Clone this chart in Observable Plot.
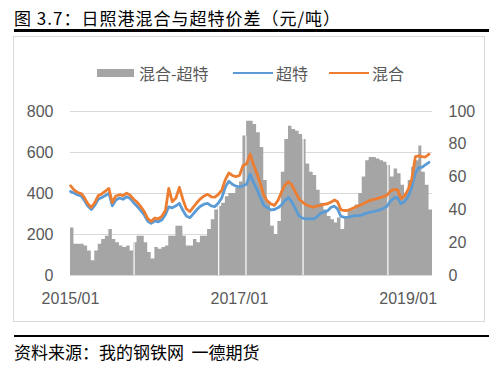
<!DOCTYPE html>
<html><head><meta charset="utf-8">
<script src="https://cdn.jsdelivr.net/npm/d3@7"></script>
<script src="https://cdn.jsdelivr.net/npm/@observablehq/plot@0.6"></script>
<style>
body{margin:0;background:#fff;}
#wrap{position:relative;width:500px;height:368px;overflow:hidden;font-family:"Noto Sans CJK SC","Noto Sans",sans-serif;color:#000;}
#title{position:absolute;left:14px;top:9px;font-size:17px;line-height:17px;letter-spacing:1px;white-space:nowrap;}
.rule{position:absolute;left:14px;width:475px;height:2px;background:#000;}
#frame{position:absolute;left:13px;top:36px;width:472px;height:286px;border:1px solid #d9d9d9;box-sizing:border-box;}
.lg{position:absolute;font-size:16px;line-height:16px;top:65px;color:#595959;white-space:nowrap;}
.sw{position:absolute;}
#chart{position:absolute;left:0;top:90px;}
#caption{position:absolute;left:14px;top:343px;font-size:17px;line-height:17px;white-space:pre;}
</style></head><body>
<div id="wrap">
  <div id="title">图 3.7：日照港混合与超特价差（元/吨）</div>
  <div class="rule" style="top:29px;height:2.5px"></div>
  <div id="frame"></div>
  <div class="sw" style="left:97px;top:69px;width:37px;height:8px;background:#a5a5a5"></div>
  <div class="lg" style="left:139px">混合-超特</div>
  <div class="sw" style="left:233px;top:71.5px;width:40px;height:2.5px;background:#5b9bd5"></div>
  <div class="lg" style="left:276px">超特</div>
  <div class="sw" style="left:329px;top:71.5px;width:40px;height:2.5px;background:#ed7d31"></div>
  <div class="lg" style="left:372px">混合</div>
  <div id="chart"></div>
  <div class="rule" style="top:334.5px"></div>
  <div id="caption">资料来源：我的钢铁网  一德期货</div>
</div>
<script>
// half-monthly readings, 2015-01-01 .. 2019-04-01
const mix = [438,418,405,400,382,352,332,356,390,398,412,425,355,388,394,390,402,392,372,358,336,312,278,264,
  280,276,290,318,425,360,378,430,372,325,312,335,356,374,388,396,384,382,395,415,468,500,488,482,
  488,535,545,592,545,500,450,392,365,350,342,365,405,440,458,440,405,373,358,345,338,333,338,342,
  347,350,358,368,360,320,317,318,325,333,340,347,356,365,370,374,380,385,392,412,420,418,375,388,
  420,468,580,584,580,578,592];
const ultra = [410,402,393,388,368,340,322,342,372,380,390,402,340,368,378,372,384,376,355,338,318,295,265,255,
  266,262,272,298,335,330,340,352,318,290,282,302,322,338,348,352,340,336,352,378,432,460,445,436,
  432,438,445,495,458,424,382,342,332,320,322,330,343,365,380,358,323,290,280,276,276,276,284,302,
  310,314,333,338,325,288,284,285,288,292,292,296,303,308,311,315,320,328,338,362,378,380,350,362,
  385,430,500,527,527,540,552];
const spread = [29,19,19,19,18,15,9,15,19,22,24,28,22,20,18,17,18,15,20,24,24,20,14,10,
  17,16,17,18,24,24,30,30,24,18,18,22,20,24,24,28,34,40,42,44,48,50,50,53,
  57,85,94,94,92,87,78,58,45,30,25,33,63,83,91,89,88,86,83,68,63,61,52,44,
  40,36,34,32,35,28,35,40,40,43,50,60,70,72,72,71,70,69,67,60,65,62,55,50,
  58,66,70,79,63,55,40];
const gapDates = ["2015-10-03","2016-10-03","2017-01-29","2017-10-03","2018-10-05"];
const leftTicks = [0,200,400,600,800];
const rightTicks = [0,20,40,60,80,100];
const xTicks = ["2015-01-01","2017-01-01","2019-01-01"];

const RATIO = 8; // right axis (0-100) onto left axis (0-800)
const dateAt = i => new Date(Date.UTC(2015 + Math.floor(i / 24), Math.floor((i % 24) / 2), i % 2 ? 16 : 1));
const rows = mix.map((m, i) => ({x1: dateAt(i), x2: dateAt(i + 1), date: dateAt(i), mix: m, ultra: ultra[i], spread: spread[i] * RATIO}));
// columns drawn as one stepped area so neighbouring columns have no seams
const steps = rows.flatMap(r => [{x: r.x1, y: r.spread}, {x: r.x2, y: r.spread}]);
const gaps = gapDates.map(s => {
  const d = new Date(s + "T00:00:00Z");
  let k = 0; rows.forEach((r, i) => { if (r.x1 <= d) k = i; });
  return {date: d, top: rows[k].spread};
});

const font = "Liberation Sans, Arial, sans-serif";
const chart = Plot.plot({
  width: 500, height: 225,
  marginTop: 21, marginBottom: 40, marginLeft: 70, marginRight: 68,
  style: {fontFamily: font, fontSize: "16px", color: "#595959", background: "transparent"},
  x: {type: "utc", domain: [dateAt(0), dateAt(mix.length)]},
  y: {domain: [0, 800]},
  marks: [
    Plot.ruleY(leftTicks, {stroke: "#d9d9d9", strokeWidth: 1}),
    Plot.areaY(steps, {x: "x", y1: 0, y2: "y", fill: "#a5a5a5"}),
    Plot.ruleX(gaps, {x: "date", y1: 0, y2: "top", stroke: "#fff", strokeWidth: 1.2}),
    Plot.line(rows, {x: "date", y: "ultra", stroke: "#5b9bd5", strokeWidth: 2.8}),
    Plot.line(rows, {x: "date", y: "mix", stroke: "#ed7d31", strokeWidth: 2.8}),
    Plot.axisY(leftTicks, {anchor: "left", tickSize: 0, tickPadding: 17, label: null, fill: "#595959"}),
    Plot.axisY(rightTicks.map(v => v * RATIO), {anchor: "right", tickSize: 0, tickPadding: 16, label: null, tickFormat: v => String(v / RATIO), fill: "#595959"}),
    Plot.axisX(xTicks.map(s => new Date(s + "T00:00:00Z")), {anchor: "bottom", tickSize: 0, tickPadding: 17, label: null, tickFormat: d3.utcFormat("%Y/%m"), fill: "#595959"})
  ]
});
document.getElementById("chart").appendChild(chart);
</script>
</body></html>
